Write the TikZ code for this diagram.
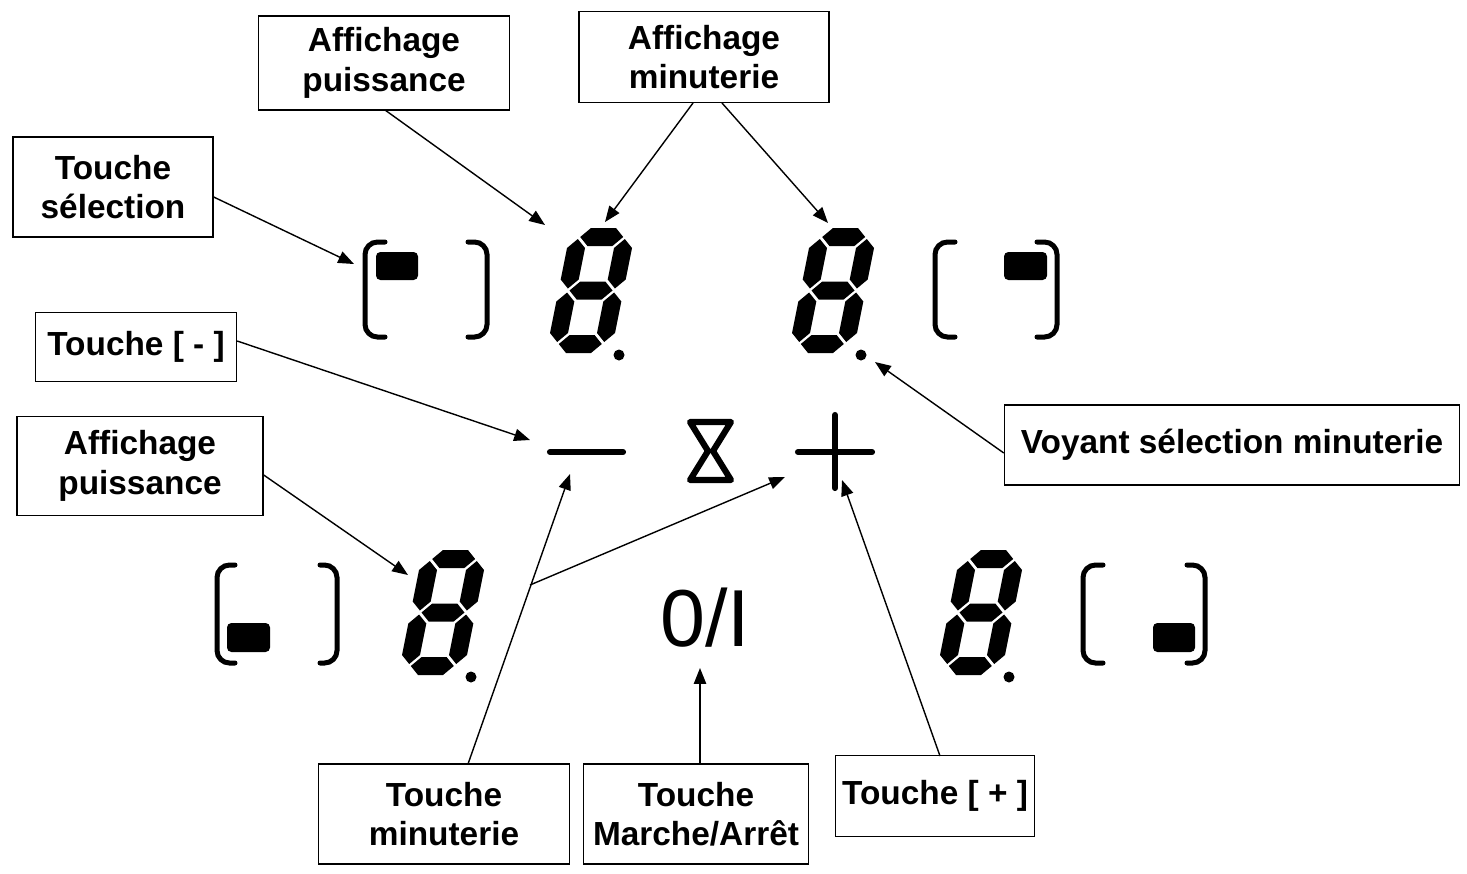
\documentclass[tikz,border=0pt]{standalone}
\usepackage{fontspec}
\setmainfont{Liberation Sans}
\usetikzlibrary{arrows.meta}

% one slanted seven segment digit, #1,#2 = bottom left corner
\newcommand\segdigit[2]{%
  \begin{scope}[shift={(#1,#2)},xslant=0.2]
    \foreach \yy in {-116,-62.5,-9}
      \fill (11,\yy) -- (20,\yy-9) -- (45,\yy-9) -- (54,\yy) -- (45,\yy+9) -- (20,\yy+9) -- cycle;
    \foreach \xx in {9,56}
      \foreach \ya/\yb in {-114/-64.5,-60.5/-11}
        \fill (\xx,\ya) -- (\xx+9,\ya+9) -- (\xx+9,\yb-9) -- (\xx,\yb) -- (\xx-9,\yb-9) -- (\xx-9,\ya+9) -- cycle;
  \end{scope}
  \fill (#1+73,#2+2) circle (5.5);}

\begin{document}
\begin{tikzpicture}[x=0.02cm,y=-0.02cm,
    label box/.style={draw,thick,fill=white,align=center,inner sep=2pt,
      font=\fontsize{19}{22.5}\selectfont\bfseries},
    pointer/.style={-{Triangle[length=9pt,width=7pt]},thick},
    bracket/.style={line width=0.1cm,line cap=round,rounded corners=0.25cm},
    lamp/.style={rounded corners=2.5pt}]
\useasboundingbox (0,0) rectangle (1467,873);

% digits
\segdigit{546}{353}
\segdigit{788}{353}
\segdigit{398}{675}
\segdigit{936}{675}

% selection keys
\draw[bracket] (385,242) -- (365,242) -- (365,337) -- (385,337);
\draw[bracket] (468,242) -- (487,242) -- (487,337) -- (468,337);
\fill[lamp] (376,252) rectangle (418,280);
\draw[bracket] (955,242) -- (935,242) -- (935,337) -- (955,337);
\draw[bracket] (1037,242) -- (1057,242) -- (1057,337) -- (1037,337);
\fill[lamp] (1004,252) rectangle (1047,280);
\draw[bracket] (235,565) -- (217,565) -- (217,663) -- (235,663);
\draw[bracket] (320,565) -- (337,565) -- (337,663) -- (320,663);
\fill[lamp] (227,623) rectangle (270,652);
\draw[bracket] (1103,565) -- (1083,565) -- (1083,663) -- (1103,663);
\draw[bracket] (1187,565) -- (1205,565) -- (1205,663) -- (1187,663);
\fill[lamp] (1153,623) rectangle (1195,652);

% keys
\coordinate (minus) at (550,452);
\draw[line width=3.5pt,line cap=round] (minus) -- ++(73,0);
\draw[line width=3.5pt,line join=round,line cap=round] (690,422) -- (731,422) -- (713,451) -- (731,480) -- (690,480) -- (708,451) -- cycle;
\draw[line width=3.5pt,line cap=round] (798,452) -- (872,452);
\draw[line width=3.5pt,line cap=round] (835,415) -- (835,488);
\node (onoff) at (705,618) {\fontsize{46}{46}\selectfont 0/I};

% labels
\node[label box,minimum width=251*0.02cm,minimum height=94*0.02cm] (pwrtop) at (384,63) {Affichage\\puissance};
\node[label box,minimum width=250*0.02cm,minimum height=91*0.02cm] (timer) at (704,57) {Affichage\\minuterie};
\node[label box,minimum width=200*0.02cm,minimum height=100*0.02cm] (select) at (113,187) {Touche\\sélection};
\node[label box,minimum width=201*0.02cm,minimum height=69*0.02cm] (keyminus) at (136,347) {Touche [ - ]};
\node[label box,minimum width=246*0.02cm,minimum height=99*0.02cm] (pwrleft) at (140,466) {Affichage\\puissance};
\node[label box,minimum width=455*0.02cm,minimum height=80*0.02cm] (lampsel) at (1232,445) {Voyant sélection minuterie};
\node[label box,minimum width=251*0.02cm,minimum height=100*0.02cm] (keytimer) at (444,814) {Touche\\minuterie};
\node[label box,minimum width=225*0.02cm,minimum height=100*0.02cm] (keyonoff) at (696,814) {Touche\\Marche/Arrêt};
\node[label box,minimum width=199*0.02cm,minimum height=81*0.02cm] (keyplus) at (935,796) {Touche [ + ]};

% pointers
\coordinate (fork) at (530,585);
\draw[pointer] (385,110) -- (545,225);
\draw[pointer] (693,103) -- (605,222);
\draw[pointer] (722,103) -- (828,223);
\draw[pointer] (select.east) ++(0,10) -- (354,264);
\draw[pointer] (keyminus.east) ++(0,-6) -- (530,440);
\draw[pointer] (pwrleft.east) ++(0,9) -- (408,575);
\draw[pointer] (lampsel.west) ++(0,8) -- (875,362);
\draw[pointer] (468,764) -- (570,474);
\draw[pointer] (fork) -- (785,477);
\draw[pointer] (keyonoff.north) ++(4,0) -- (700,668);
\draw[pointer] (940,756) -- (842,480);
\end{tikzpicture}
\end{document}
